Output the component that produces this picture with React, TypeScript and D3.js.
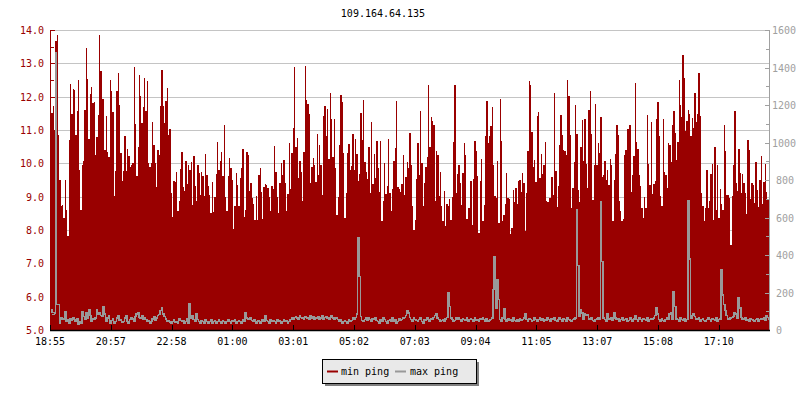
import React from "react";
import * as d3 from "d3";

// ---- DATA ----
const title = "109.164.64.135";
const seriesNames = ["min ping", "max ping"];
const timeLabels = ["18:55", "20:57", "22:58", "01:00", "03:01", "05:02", "07:03", "09:04", "11:05", "13:07", "15:08", "17:10"];
const leftTicks = [5, 6, 7, 8, 9, 10, 11, 12, 13, 14];
const rightTicks = [0, 200, 400, 600, 800, 1000, 1200, 1400, 1600];

// min ping (ms, left axis)
const minPing = [
  12.46,11.48,11.71,11.01,13.66,13.84,10.86,9.51,8.71,8.76,
  8.36,9.51,8.61,7.81,10.71,12.38,11.48,12.24,12.21,10.86,
  11.56,12.51,9.81,8.61,9.94,10.08,11.61,13.46,12.54,10.74,
  12.08,12.28,11.81,11.85,10.24,10.78,11.44,13.84,12.76,11.94,
  11.94,10.41,11.41,10.34,10.18,12.51,12.18,11.54,9.01,9.78,
  12.18,12.71,11.76,10.31,9.46,9.76,10.81,9.76,10.44,10.21,
  9.88,9.96,10.01,12.88,11.18,9.61,10.48,12.66,12.01,11.21,
  11.68,12.56,11.58,12.46,10.01,9.88,10.01,11.24,10.54,10.01,
  9.28,10.41,10.24,11.71,12.81,11.71,11.21,11.86,12.26,10.84,
  11.04,9.11,8.38,9.46,9.44,9.73,8.58,8.88,9.84,10.34,
  9.28,9.16,10.08,9.38,9.94,9.81,10.04,8.74,10.21,
  9.31,8.86,9.94,9.71,9.06,9.74,9.61,9.01,
  10.28,9.66,9.31,9.06,8.51,9.44,8.54,8.98,9.68,10.64,
  9.81,10.08,10.34,9.61,11.16,8.98,8.58,9.61,10.16,9.86,
  9.5,8.04,8.71,9.71,9.36,8.71,9.56,9.86,10.44,8.38,
  8.61,10.34,10.24,9.16,9.41,8.96,8.78,8.31,9.01,8.31,
  9.66,9.86,9.14,8.34,9.28,9.38,9.36,9.26,8.98,8.56,
  9.31,9.24,10.51,9.74,8.98,8.51,9.41,10.01,9.66,10.11,
  9.41,8.58,9.08,10.61,9.24,10.31,11.06,12.88,10.48,10.76,
  9.56,10.06,9.74,8.86,10.34,12.91,11.91,11.78,11.48,9.41,
  9.88,10.16,9.96,9.44,10.88,9.64,10.54,9.96,9.06,11.41,
  11.71,10.81,11.64,10.14,12.11,11.34,10.18,11.34,9.86,8.44,
  8.98,
  10.56,12.06,11.84,10.31,8.36,9.11,10.31,10.58,
  9.81,9.91,10.88,9.81,10.74,10.28,9.48,9.68,11.51,
  10.71,11.91,10.04,9.74,9.54,10.48,9.11,11.24,9.38,10.28,
  9.56,10.68,9.86,9.14,10.66,8.26,8.86,10.01,9.08,9.31,
  10.74,9.11,8.56,9.24,10.08,10.46,11.88,9.28,9.24,9.14,
  9.38,10.26,9.06,9.58,10.04,9.86,10.91,9.96,8.71,8.01,
  8.31,9.54,10.61,9.66,11.58,10.01,8.71,9.41,9.88,10.18,
  12.36,10.48,11.38,11.26,11.14,8.88,10.38,10.24,9.01,9.74,
  8.71,8.28,9.16,8.11,8.78,8.71,8.94,8.31,8.98,10.64,
  12.34,9.11,9.68,9.96,9.41,8.74,9.71,10.61,10.24,8.34,
  8.66,8.66,9.46,8.16,9.54,10.68,10.38,9.61,7.91,9.48,
  10.14,8.26,
  8.76,10.81,11.88,10.61,10.81,11.11,11.68,9.94,9.01,8.96,
  10.08,8.21,11.94,10.66,8.26,8.44,8.78,9.71,8.96,8.94,
  7.88,8.06,9.21,8.84,9.26,8.78,9.46,9.51,9.14,9.71,
  9.41,7.96,9.11,10.38,12.48,12.34,10.94,9.88,10.11,9.44,
  11.41,11.54,9.56,10.28,9.68,9.94,10.64,8.88,8.84,8.96,
  8.96,9.58,9.06,12.11,9.76,8.68,9.31,10.54,11.44,10.84,
  10.41,10.36,10.24,12.51,12.01,10.86,8.66,9.26,10.04,11.76,
  10.88,9.21,8.84,10.48,11.31,10.08,11.34,9.98,9.26,11.61,
  12.16,10.88,8.91,9.96,11.78,9.96,10.61,10.31,11.38,9.58,
  9.66,10.08,9.51,9.81,9.36,10.14,9.96,8.26,9.51,10.28,
  11.16,10.86,8.86,8.58,8.26,8.34,10.26,10.41,11.04,
  11.04,11.16,9.14,9.64,10.21,12.41,10.64,10.44,
  9.66,9.31,8.66,8.36,8.98,8.66,11.46,9.98,9.36,11.24,
  9.08,9.38,9.48,11.34,11.84,10.81,9.01,8.71,
  11.34,9.74,9.64,9.26,10.61,10.54,10.04,11.16,11.56,10.91,
  10.11,10.64,12.51,11.76,11.38,13.24,12.56,10.98,11.28,11.61,
  11.48,10.81,11.36,11.06,12.11,11.24,11.48,12.71,11.41,9.11,
  8.71,8.28,8.66,9.81,8.66,8.86,9.68,9.98,8.31,10.48,
  8.61,9.96,8.36,9.24,8.78,8.61,11.16,10.38,9.06,9.04,
  8.96,7.54,9.01,9.96,11.58,9.41,9.16,10.44,9.71,9.11,
  9.68,9.41,9.11,8.48,10.71,10.41,8.94,9.41,9.34,8.81,
  10.04,9.21,8.68,9.51,10.21,8.78,9.44,9.98,9.14,8.91,9.81,
];

// max ping (ms, right axis)
const maxPing = [
  91,108,82,91,1481,135,135,37,64,60, 60,96,46,55,37,60,50,64,55,46,
  60,32,46,37,96,73,60,91,64,108, 78,46,60,55,64,108,85,91,78,73,
  126,85,46,64,78,37,50,60,37,46, 64,78,50,55,43,46,64,78,46,37,
  55,68,60,46,73,85,91,68,64,78, 60,68,55,46,50,37,46,60,73,50,
  64,78,82,103,117,85,73,60,46,50, 43,37,46,55,43,46,37,60,50,46,
  50,37,46,60,37,139,64,78,55,
  46,85,55,46,37,50,46,37,55,46, 37,46,55,37,46,50,37,46,55,46,
  37,50,46,37,46,55,46,37,50,46, 55,37,46,50,46,37,55,46,91,64,
  60,55,64,50,46,55,37,46,50,37, 46,55,46,78,50,46,37,55,46,50,
  46,37,55,46,50,37,46,55,46,50, 37,46,55,64,60,68,73,64,60,78,
  68,64,60,73,68,64,60,78,64,73, 60,68,64,73,60,64,78,60,68,73,
  64,60,68,78,64,60,68,64,55,
  46,55,37,46,50,46,37,55,46,50, 64,55,68,85,491,286,73,50,46,55,
  64,50,68,55,46,60,55,64,50,46, 37,55,46,68,55,46,37,50,55,46,
  64,46,55,37,46,60,50,55,64,68, 78,103,91,68,55,46,64,55,50,46,
  55,64,46,37,55,50,64,55,46,60, 55,68,78,85,64,55,46,50,55,46,
  60,68,197,126,64,55,46,50,64,55, 68,55,46,60,55,50,64,46,55,60,
  55,46,64,50,55,46,60,55,64,
  55,46,60,46,50,55,64,215,393,114, 268,162,55,46,64,114,55,46,60,50,
  55,46,64,50,46,55,46,60,50,55, 64,85,55,46,60,55,46,50,64,55,
  46,55,64,50,60,46,55,50,64,55, 46,60,55,64,50,46,55,68,55,46,
  60,55,46,64,55,50,46,55,60,64, 642,345,73,108,91,60,85,78,82,60,
  55,64,50,46,55,60,64,55,686,366, 64,55,46,85,60,55,64,50,91,64,
  55,60,46,55,64,50,55,60,46,
  50,64,55,46,60,78,55,46,64,55, 46,60,55,50,64,46,55,60,55,64,
  78,121,85,55,46,60,50,46,55,64, 60,85,91,60,203,126,60,55,46,64,
  55,50,60,46,55,690,380,64,78,85, 73,60,55,64,46,55,60,50,46,55,
  64,55,46,60,55,50,64,46,55,60, 320,188,135,103,78,60,55,64,68,73,
  91,85,64,174,117,68,55,60,64,50, 55,46,60,55,50,46,55,60,46,55,
  60,55,64,50,78,68,60,
];

// ---- STYLE ----
const RED = "#990000";
const GRAY = "#999999";
const AXIS_GRAY = "#a0a0a0";
const GRID = "#c4c4c4";
const FONT = "'DejaVu Sans Mono', 'Liberation Mono', monospace";

const startTime = new Date(2024, 0, 1, 18, 55);
const spanMin = 1440;
const tickStepMin = 121.6;

export default function App() {
  const W = 800, H = 400;
  const left = 50, right = 770, top = 30, bottom = 330;

  const x = d3.scaleTime()
    .domain([startTime, d3.timeMinute.offset(startTime, spanMin)])
    .range([left, right]);
  const yL = d3.scaleLinear().domain([5, 14]).range([bottom, top]);
  const yR = d3.scaleLinear().domain([0, 1600]).range([bottom, top]);

  const tAt = (i: number, n: number) => new Date(startTime.getTime() + (i * spanMin / n) * 60000);

  const minExt = [...minPing, minPing[minPing.length - 1]];
  const maxExt = [...maxPing, maxPing[maxPing.length - 1]];

  const areaGen = d3.area<number>()
    .x((_, i) => x(tAt(i, minPing.length)))
    .y0(bottom)
    .y1((d) => yL(d))
    .curve(d3.curveStepAfter);

  const lineGen = d3.line<number>()
    .x((_, i) => x(tAt(i, maxPing.length)))
    .y((d) => yR(d))
    .curve(d3.curveStepAfter);

  const tickTimes = timeLabels.map((_, k) => new Date(startTime.getTime() + k * tickStepMin * 60000));
  const halfTicks = d3.range(5, 14.01, 0.5);
  const rightMinor = d3.range(0, 1601, 100);

  const snap = (v: number) => Math.round(v) + 0.5;

  return (
    <svg width={W} height={H} style={{ position: "absolute", left: 0, top: 0, background: "#fff" }}
      fontFamily={FONT} fontSize={10}>
      <rect x={0} y={0} width={W} height={H} fill="#fff" />
      <text x={383} y={17} textAnchor="middle" fill="#000">{title}</text>

      {/* grid */}
      {leftTicks.map((v) => (
        <line key={"g" + v} x1={left} x2={right} y1={snap(yL(v))} y2={snap(yL(v))} stroke={GRID} strokeWidth={1} />
      ))}

      {/* min ping area */}
      <path d={areaGen(minExt) || ""} fill={RED} shapeRendering="crispEdges" />
      {/* max ping line */}
      <path d={lineGen(maxExt) || ""} fill="none" stroke={GRAY} strokeWidth={1.5} shapeRendering="crispEdges" />

      {/* left axis */}
      <line x1={left + 0.5} x2={left + 0.5} y1={top} y2={bottom} stroke={RED} />
      {halfTicks.map((v) => (
        <line key={"lt" + v} x1={left} x2={left + (Number.isInteger(v) ? 5 : 4)}
          y1={snap(yL(v))} y2={snap(yL(v))} stroke={RED} />
      ))}
      {leftTicks.map((v) => (
        <text key={"ll" + v} x={44} y={Math.round(yL(v)) + 4} textAnchor="end" fill={RED}>{v.toFixed(1)}</text>
      ))}

      {/* right axis */}
      <line x1={right - 0.5} x2={right - 0.5} y1={top} y2={bottom} stroke={AXIS_GRAY} />
      {rightMinor.map((v) => (
        <line key={"rt" + v} x1={right - (v % 200 === 0 ? 5 : 4)} x2={right}
          y1={snap(yR(v))} y2={snap(yR(v))} stroke={AXIS_GRAY} />
      ))}
      {rightTicks.map((v) => {
        const s = String(v);
        return (
          <text key={"rl" + v} x={Math.min(776, 796 - s.length * 6)} y={Math.round(yR(v)) + 4} fill={AXIS_GRAY}>{s}</text>
        );
      })}

      {/* bottom axis */}
      <line x1={left} x2={right} y1={bottom + 0.5} y2={bottom + 0.5} stroke="#000" strokeWidth={1.5} />
      {tickTimes.map((t, k) => (
        <g key={"xt" + k}>
          <line x1={snap(x(t))} x2={snap(x(t))} y1={bottom - 5} y2={bottom} stroke="#000" />
          <text x={x(t)} y={345} textAnchor="middle" fill="#000">{timeLabels[k]}</text>
        </g>
      ))}

      {/* legend */}
      <rect x={325} y={362} width={154} height={24} fill="#808080" />
      <rect x={322.5} y={359.5} width={154} height={24} fill="#e9e9e9" stroke="#000" strokeWidth={1} />
      <line x1={327} x2={338} y1={371.5} y2={371.5} stroke={RED} strokeWidth={2} />
      <text x={341} y={375} fill="#000">{seriesNames[0]}</text>
      <line x1={395} x2={406} y1={371.5} y2={371.5} stroke={GRAY} strokeWidth={2} />
      <text x={410} y={375} fill="#000">{seriesNames[1]}</text>
    </svg>
  );
}
